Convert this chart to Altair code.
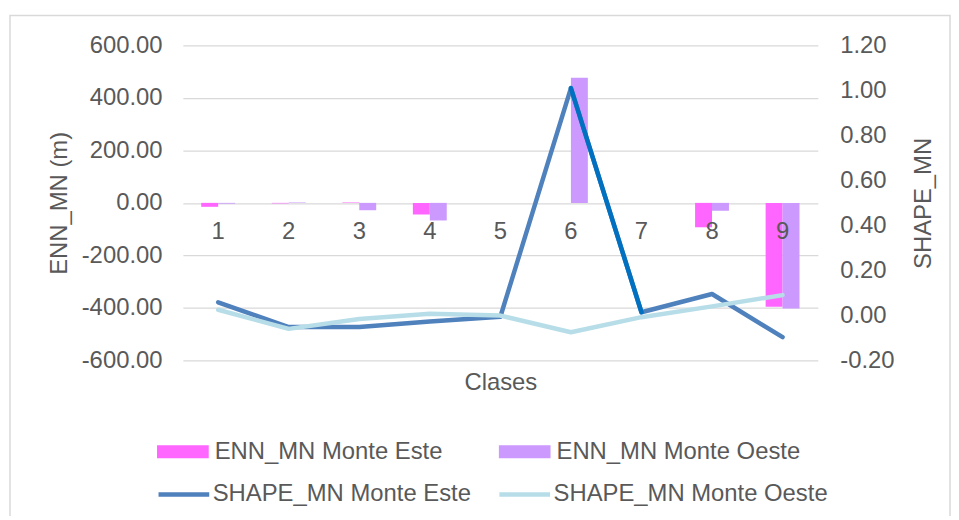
import altair as alt
import pandas as pd

clases = ["1", "2", "3", "4", "5", "6", "7", "8", "9"]
enn_este = [-15, -2, 1, -44, 0, 0, 0, -93, -396]
enn_oeste = [-3, 2, -28, -67, 0, 477, 0, -30, -402]
shape_este = [0.058, -0.052, -0.052, -0.027, -0.006, 1.01, 0.014, 0.095, -0.097]
shape_oeste = [0.025, -0.06, -0.016, 0.007, -0.001, -0.075, -0.008, 0.04, 0.09]

bar_series = ["ENN_MN Monte Este", "ENN_MN Monte Oeste"]
line_series = ["SHAPE_MN Monte Este", "SHAPE_MN Monte Oeste"]
bar_colors = ["#FF66FF", "#CC99FF"]
line_colors = ["#4F81BD", "#B7DEE8"]
highlight_color = "#0070C0"
highlight_classes = ["6", "7"]

left_ticks = [-600, -400, -200, 0, 200, 400, 600]
right_ticks = [-0.2, 0.0, 0.2, 0.4, 0.6, 0.8, 1.0, 1.2]

FONT = "Liberation Sans"
GREY = "#595959"

bars_df = pd.DataFrame({
    "Clase": clases * 2,
    "Serie": [bar_series[0]] * len(clases) + [bar_series[1]] * len(clases),
    "Valor": enn_este + enn_oeste,
})
lines_df = pd.DataFrame({
    "Clase": clases * 2,
    "Serie": [line_series[0]] * len(clases) + [line_series[1]] * len(clases),
    "Valor": shape_este + shape_oeste,
})
labels_df = pd.DataFrame({"Clase": clases})

minus_fix = "replace(format(datum.value, '.2f'), '\u2212', '-')"

x_enc = alt.X(
    "Clase:N",
    sort=clases,
    scale=alt.Scale(domain=clases, paddingInner=0.52, paddingOuter=0.26),
    axis=alt.Axis(title="Clases", labels=False, ticks=False, domain=False,
                  titleFont=FONT, titleFontSize=24, titleColor=GREY,
                  titleFontWeight="normal", titlePadding=10),
)

y_left = alt.Y(
    "Valor:Q",
    scale=alt.Scale(domain=[-600, 600], nice=False),
    axis=alt.Axis(title="ENN_MN (m)", orient="left", values=left_ticks,
                  labelExpr=minus_fix, grid=True, gridColor="#D9D9D9",
                  gridWidth=1.3, domain=False, ticks=False, tickSize=0,
                  labelPadding=21, labelFont=FONT, labelFontSize=24,
                  labelColor=GREY, titleFont=FONT, titleFontSize=24,
                  titleColor=GREY, titleFontWeight="normal", titlePadding=10),
)

y_right = alt.Y(
    "Valor:Q",
    scale=alt.Scale(domain=[-0.2, 1.2], nice=False, zero=False),
    axis=alt.Axis(title="SHAPE_MN", orient="right", values=right_ticks,
                  labelExpr=minus_fix, grid=False, domain=False, ticks=False,
                  tickSize=0, labelPadding=22, labelFont=FONT,
                  labelFontSize=24, labelColor=GREY, titleFont=FONT,
                  titleFontSize=24, titleColor=GREY, titleFontWeight="normal",
                  titleAngle=270, titleBaseline="top", titlePadding=18),
)

bars = alt.Chart(bars_df).mark_bar().encode(
    x=x_enc,
    xOffset=alt.XOffset("Serie:N", sort=bar_series,
                        scale=alt.Scale(domain=bar_series, paddingInner=0, paddingOuter=0)),
    y=y_left,
    fill=alt.Fill(
        "Serie:N",
        scale=alt.Scale(domain=bar_series, range=bar_colors),
        legend=alt.Legend(title=None, orient="none", legendX=-26, legendY=383,
                          direction="horizontal", columns=2, columnPadding=56,
                          symbolType="M-1,-0.25H1V0.25H-1Z", symbolSize=2704,
                          symbolStrokeWidth=0, symbolOpacity=1, labelOffset=6,
                          labelFont=FONT, labelFontSize=24, labelColor=GREY,
                          labelLimit=400),
    ),
)

cat_labels = alt.Chart(labels_df).mark_text(
    font=FONT, fontSize=24, color=GREY, baseline="alphabetic", dy=36
).encode(
    x=alt.X("Clase:N", sort=clases),
    y=alt.datum(0),
    text="Clase:N",
)

left_layer = alt.layer(bars, cat_labels)

lines = alt.Chart(lines_df).mark_line(
    strokeWidth=4.5, strokeCap="round", strokeJoin="round"
).encode(
    x=alt.X("Clase:N", sort=clases),
    y=y_right,
    stroke=alt.Stroke(
        "Serie:N",
        scale=alt.Scale(domain=line_series, range=line_colors),
        legend=alt.Legend(title=None, orient="none", legendX=-27, legendY=424,
                          direction="horizontal", columns=2, columnPadding=18,
                          symbolType="stroke", symbolSize=2601,
                          symbolStrokeWidth=4.5, labelOffset=1,
                          labelFont=FONT, labelFontSize=24, labelColor=GREY,
                          labelLimit=400),
    ),
)

segment = alt.Chart(lines_df).transform_filter(
    alt.datum.Serie == line_series[0]
).transform_filter(
    alt.FieldOneOfPredicate(field="Clase", oneOf=highlight_classes)
).mark_line(
    color=highlight_color, strokeWidth=4.5, strokeCap="round", strokeJoin="round"
).encode(
    x=alt.X("Clase:N", sort=clases),
    y=y_right,
)

right_layer = alt.layer(lines, segment)

frame = alt.Chart(pd.DataFrame({"f": [0]})).mark_rect(
    fill="white", fillOpacity=0, stroke="#D9D9D9", strokeWidth=1.5
).encode(
    x=alt.value(-174), x2=alt.value(772), y=alt.value(-30), y2=alt.value(480)
)

chart = alt.layer(frame, left_layer, right_layer).resolve_scale(
    y="independent", fill="independent", stroke="independent"
).properties(
    width=639,
    height=317,
    padding={"left": 176, "top": 36, "right": 134, "bottom": 155},
    autosize=alt.AutoSizeParams(type="none"),
    background="white",
).configure_view(strokeWidth=0)

chart.save("out.html", embed_options={"renderer": "svg", "actions": False})
